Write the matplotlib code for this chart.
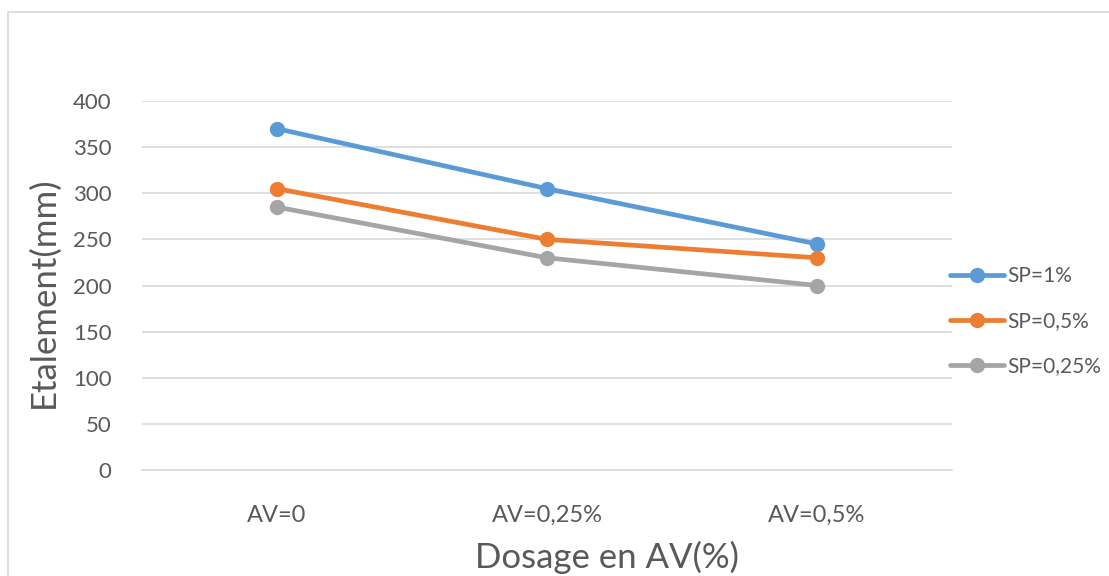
import matplotlib.pyplot as plt
from matplotlib.patches import Rectangle

categories = ["AV=0", "AV=0,25%", "AV=0,5%"]
series_names = ["SP=1%", "SP=0,5%", "SP=0,25%"]
sp_1 = [370, 305, 245]
sp_05 = [305, 250, 230]
sp_025 = [285, 230, 200]
colors = ["#5b9bd5", "#ed7d31", "#a5a5a5"]
yticks = [0, 50, 100, 150, 200, 250, 300, 350, 400]

plt.rcParams['font.family'] = ['Lato', 'DejaVu Sans']
text_col = "#595959"

W, H = 1109, 576
fig = plt.figure(figsize=(W / 100, H / 100), dpi=100)
ax = fig.add_axes([142 / W, 1 - 470 / H, (952 - 142) / W, (470 - 101) / H])

x = list(range(len(categories)))
for vals, name, c in zip([sp_1, sp_05, sp_025], series_names, colors):
    ax.plot(x, vals, color=c, lw=3.4, marker="o", ms=10, label=name,
            solid_capstyle="round")

ax.set_xlim(-0.5, len(categories) - 0.5)
ax.set_ylim(0, 400)
ax.set_yticks(yticks)
ax.set_xticks(x)
ax.set_xticklabels(categories)
ax.grid(axis="y", color="#d9d9d9", lw=1.2)
ax.set_axisbelow(True)
for s in ax.spines.values():
    s.set_visible(False)
ax.spines["bottom"].set_visible(True)
ax.spines["bottom"].set_color("#d9d9d9")
ax.spines["bottom"].set_linewidth(1.2)
ax.tick_params(length=0, colors=text_col)
ax.tick_params(axis="y", pad=22, labelsize=16)
ax.tick_params(axis="x", pad=25, labelsize=17)

fig.text(44 / W, 1 - 292 / H, "Etalement(mm)", rotation=90, ha="center",
         va="center", fontsize=25, color=text_col)
fig.text(607 / W, 1 - 557 / H, "Dosage en AV(%)", ha="center", va="center",
         fontsize=25, color=text_col)

leg = fig.legend(loc="upper left", bbox_to_anchor=(950 / W, 1 - 266 / H),
                 frameon=False, fontsize=15, handlelength=2.6,
                 handletextpad=0.15, labelspacing=1.2, labelcolor=text_col,
                 borderaxespad=0, borderpad=0)

fig.patches.append(Rectangle((8 / W, -0.1), 1.2, 1 - 12 / H + 0.1,
                             transform=fig.transFigure, fill=False,
                             edgecolor="#d9d9d9", lw=1.2))

fig.savefig("out.png", dpi=100)
